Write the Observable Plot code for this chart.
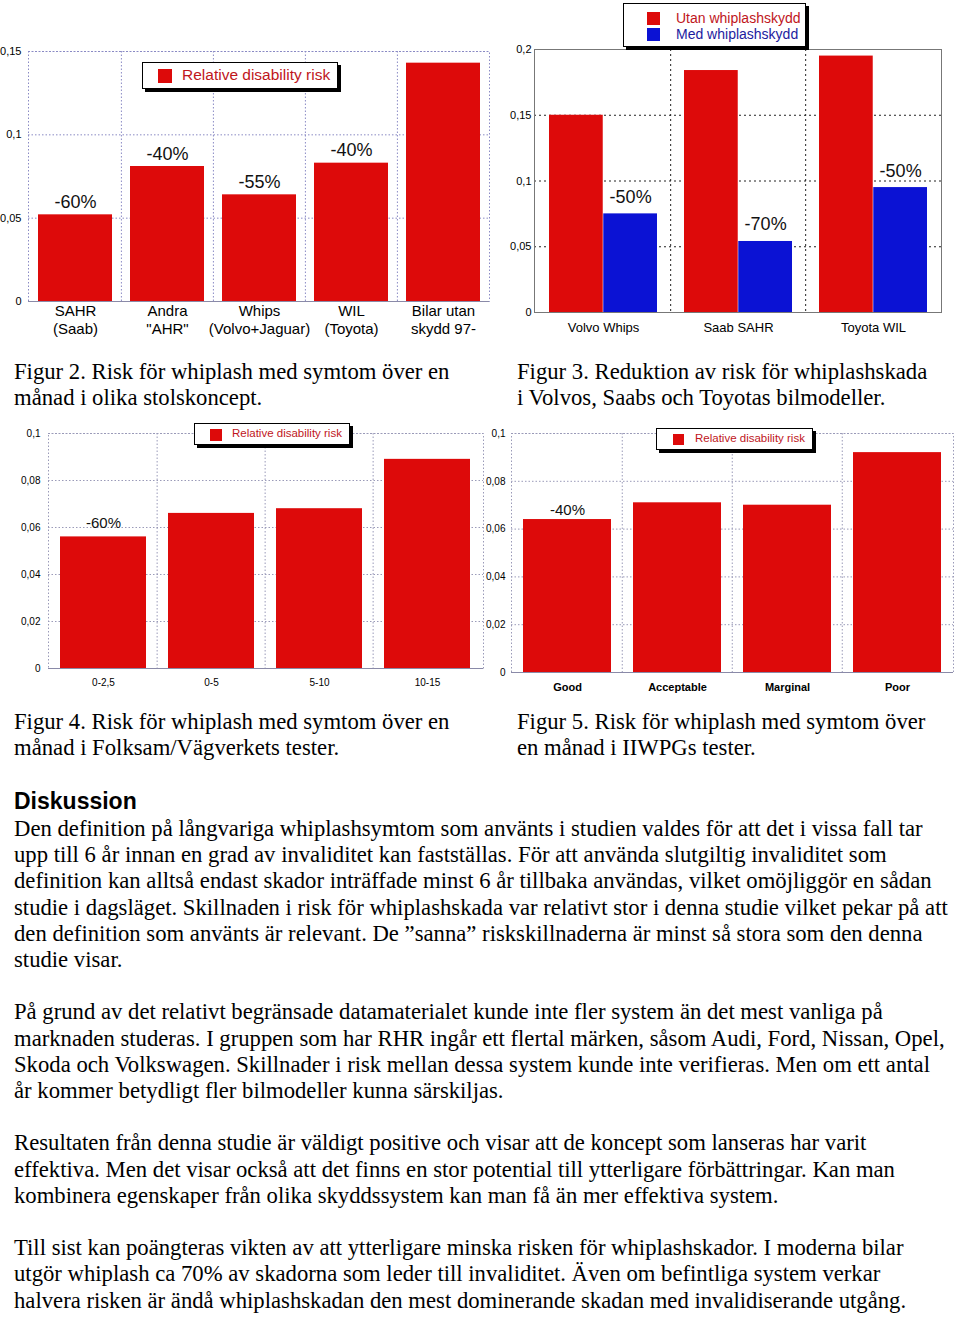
<!DOCTYPE html>
<html><head><meta charset="utf-8">
<script src="https://cdn.jsdelivr.net/npm/d3@7"></script>
<script src="https://cdn.jsdelivr.net/npm/@observablehq/plot@0.6"></script>
<style>
html,body{margin:0;padding:0;background:#fff;}
#page{position:relative;width:960px;height:1319px;overflow:hidden;font-family:"Liberation Serif","Times New Roman",serif;color:#000;}
.chart{position:absolute;}
.chart svg{display:block;overflow:visible;}
.legend{position:absolute;box-sizing:border-box;background:#fff;border:1px solid #000;box-shadow:3px 3px 0 #000;font-family:"Liberation Sans",Arial,sans-serif;z-index:5;}
.legend .sw{position:absolute;}
.legend .lt{position:absolute;white-space:nowrap;}
.txt{position:absolute;font-size:22.7px;line-height:26.2px;white-space:nowrap;}
.head{position:absolute;left:14px;top:788px;font-family:"Liberation Sans",Arial,sans-serif;font-weight:bold;font-size:23px;line-height:26px;}
</style>
</head><body><div id="page"></div>
<script>
// ---------- data ----------
const fig2Categories = ["SAHR\n(Saab)", "Andra\n\"AHR\"", "Whips\n(Volvo+Jaguar)", "WIL\n(Toyota)", "Bilar utan\nskydd 97-"];
const fig2Values = [0.052, 0.081, 0.064, 0.083, 0.143];
const fig2Labels = ["-60%", "-40%", "-55%", "-40%", ""];
const fig2Ticks = [0, 0.05, 0.1, 0.15];
const fig2Legend = ["Relative disability risk"];

const fig3Categories = ["Volvo Whips", "Saab SAHR", "Toyota WIL"];
const fig3Utan = [0.150, 0.184, 0.195];
const fig3Med = [0.075, 0.054, 0.095];
const fig3Labels = ["-50%", "-70%", "-50%"];
const fig3Ticks = [0, 0.05, 0.1, 0.15, 0.2];
const fig3Legend = ["Utan whiplashskydd", "Med whiplashskydd"];

const fig4Categories = ["0-2,5", "0-5", "5-10", "10-15"];
const fig4Values = [0.056, 0.066, 0.068, 0.089];
const fig4Labels = ["-60%", "", "", ""];
const fig4Ticks = [0, 0.02, 0.04, 0.06, 0.08, 0.1];
const fig4Legend = ["Relative disability risk"];

const fig5Categories = ["Good", "Acceptable", "Marginal", "Poor"];
const fig5Values = [0.064, 0.071, 0.070, 0.092];
const fig5Labels = ["-40%", "", "", ""];
const fig5Ticks = [0, 0.02, 0.04, 0.06, 0.08, 0.1];
const fig5Legend = ["Relative disability risk"];

const captions = [
  "Figur 2. Risk för whiplash med symtom över en\nmånad i olika stolskoncept.",
  "Figur 3. Reduktion av risk för whiplashskada\ni Volvos, Saabs och Toyotas bilmodeller.",
  "Figur 4. Risk för whiplash med symtom över en\nmånad i Folksam/Vägverkets tester.",
  "Figur 5. Risk för whiplash med symtom över\nen månad i IIWPGs tester."
];
const heading = "Diskussion";
const paragraphs = [
  ["Den definition på långvariga whiplashsymtom som använts i studien valdes för att det i vissa fall tar",
   "upp till 6 år innan en grad av invaliditet kan fastställas. För att använda slutgiltig invaliditet som",
   "definition kan alltså endast skador inträffade minst 6 år tillbaka användas, vilket omöjliggör en sådan",
   "studie i dagsläget. Skillnaden i risk för whiplashskada var relativt stor i denna studie vilket pekar på att",
   "den definition som använts är relevant. De ”sanna” riskskillnaderna är minst så stora som den denna",
   "studie visar."],
  ["På grund av det relativt begränsade datamaterialet kunde inte fler system än det mest vanliga på",
   "marknaden studeras. I gruppen som har RHR ingår ett flertal märken, såsom Audi, Ford, Nissan, Opel,",
   "Skoda och Volkswagen. Skillnader i risk mellan dessa system kunde inte verifieras. Men om ett antal",
   "år kommer betydligt fler bilmodeller kunna särskiljas."],
  ["Resultaten från denna studie är väldigt positive och visar att de koncept som lanseras har varit",
   "effektiva. Men det visar också att det finns en stor potential till ytterligare förbättringar. Kan man",
   "kombinera egenskaper från olika skyddssystem kan man få än mer effektiva system."],
  ["Till sist kan poängteras vikten av att ytterligare minska risken för whiplashskador. I moderna bilar",
   "utgör whiplash ca 70% av skadorna som leder till invaliditet. Även om befintliga system verkar",
   "halvera risken är ändå whiplashskadan den mest dominerande skadan med invalidiserande utgång."]
];

// ---------- styles ----------
const RED = "#dd0a0a";
const BLUE = "#0b12d4";
const LEG_RED = "#c0161c";
const LEG_BLUE = "#1c1ca0";
const fmt = d => d === 0 ? "0" : String(d).replace(".", ",");
const page = document.getElementById("page");

function place(node, left, top) {
  const div = document.createElement("div");
  div.className = "chart";
  div.style.left = left + "px";
  div.style.top = top + "px";
  div.appendChild(node);
  page.appendChild(div);
}

function singleChart(o) {
  const data = o.cats.map((c, i) => ({cat: c, v: o.vals[i], label: o.labels[i]}));
  const step = (o.width - o.ml - o.mr) / o.cats.length;
  return Plot.plot({
    width: o.width, height: o.height,
    marginLeft: o.ml, marginRight: o.mr, marginTop: o.mt, marginBottom: o.mb,
    style: {fontFamily: "'Liberation Sans', Arial, sans-serif", background: "transparent", color: "#000"},
    x: {domain: o.cats, paddingInner: 0.2, paddingOuter: 0.1},
    y: {domain: [0, o.ticks[o.ticks.length - 1]]},
    marks: [
      Plot.ruleY(o.ticks.slice(1), {stroke: o.grid, strokeDasharray: "1.5,2", strokeWidth: 1}),
      Plot.ruleX(o.cats.slice(1), {dx: -step / 2, stroke: o.grid, strokeDasharray: "1.5,2", strokeWidth: 1}),
      Plot.frame({stroke: o.grid, strokeDasharray: "1.5,2"}),
      Plot.barY(data, {x: "cat", y: "v", fill: RED}),
      Plot.ruleY([0], {stroke: "#8a8aa8"}),
      Plot.text(data, {x: "cat", y: "v", text: "label", lineAnchor: "bottom", dy: o.labelDy, fontSize: o.labelFont, fill: "#111"}),
      Plot.axisY(o.ticks, {tickFormat: fmt, tickSize: 0, tickPadding: o.tickPad, fontSize: o.tickFont, label: null}),
      Plot.axisX({tickSize: 0, tickPadding: o.catPad, fontSize: o.catFont, fontWeight: o.catWeight || "normal", lineHeight: o.lineHeight || 1.2, label: null})
    ]
  });
}

function legend(left, top, w, h, items, sw, swLeft, textLeft, fontSize, rowTops, textTops) {
  const box = document.createElement("div");
  box.className = "legend";
  Object.assign(box.style, {left: left + "px", top: top + "px", width: w + "px", height: h + "px"});
  items.forEach((it, i) => {
    const s = document.createElement("div");
    s.className = "sw";
    Object.assign(s.style, {left: swLeft + "px", top: rowTops[i] + "px", width: sw + "px", height: sw + "px", background: it.fill});
    box.appendChild(s);
    const t = document.createElement("div");
    t.className = "lt";
    t.textContent = it.label;
    Object.assign(t.style, {left: textLeft + "px", top: textTops[i] + "px", fontSize: fontSize + "px", lineHeight: (fontSize + 2) + "px", color: it.color});
    box.appendChild(t);
  });
  page.appendChild(box);
}

// ---------- Figur 2 ----------
place(singleChart({
  cats: fig2Categories, vals: fig2Values, labels: fig2Labels, ticks: fig2Ticks,
  width: 492, height: 345, ml: 28, mr: 3, mt: 51, mb: 44,
  grid: "#8a8ac4", tickFont: 11, tickPad: 7, catFont: 15, catPad: 2, lineHeight: 1.2,
  labelFont: 18, labelDy: -7
}), 0, 0);
legend(142, 62, 196, 27, [{label: fig2Legend[0], fill: RED, color: LEG_RED}], 14, 15, 39, 15.5, [6], [3]);

// ---------- Figur 3 ----------
{
  const width = 470, height = 340, ml = 44, mr = 19, mt = 49, mb = 28;
  const step = (width - ml - mr) / fig3Categories.length;
  const bw = step * 0.8;
  const data = fig3Categories.map((c, i) => ({cat: c, utan: fig3Utan[i], med: fig3Med[i], label: fig3Labels[i]}));
  const chart = Plot.plot({
    width, height, marginLeft: ml, marginRight: mr, marginTop: mt, marginBottom: mb,
    style: {fontFamily: "'Liberation Sans', Arial, sans-serif", background: "transparent", color: "#000"},
    x: {domain: fig3Categories, paddingInner: 0.2, paddingOuter: 0.1},
    y: {domain: [0, fig3Ticks[fig3Ticks.length - 1]]},
    marks: [
      Plot.ruleY(fig3Ticks.slice(1, -1), {stroke: "#222", strokeDasharray: "2,3"}),
      Plot.ruleX(fig3Categories.slice(1), {dx: -step / 2, stroke: "#222", strokeDasharray: "2,3"}),
      Plot.barY(data, {x: "cat", y: "utan", fill: RED, insetRight: bw / 2}),
      Plot.barY(data, {x: "cat", y: "med", fill: BLUE, insetLeft: bw / 2}),
      Plot.frame({stroke: "#777"}),
      Plot.text(data, {x: "cat", y: "med", text: "label", dx: bw / 4, dy: -11, lineAnchor: "bottom", fontSize: 18, fill: "#111"}),
      Plot.axisY(fig3Ticks, {tickFormat: fmt, tickSize: 0, tickPadding: 3, fontSize: 11, label: null}),
      Plot.axisX({tickSize: 0, tickPadding: 10, fontSize: 13, label: null})
    ]
  });
  place(chart, 490, 0);
  legend(623, 3, 183, 44,
    [{label: fig3Legend[0], fill: RED, color: LEG_RED}, {label: fig3Legend[1], fill: BLUE, color: LEG_BLUE}],
    13, 23, 52, 14, [8, 24], [6, 22]);
}

// ---------- Figur 4 ----------
place(singleChart({
  cats: fig4Categories, vals: fig4Values, labels: fig4Labels, ticks: fig4Ticks,
  width: 485, height: 280, ml: 48, mr: 2, mt: 13, mb: 32,
  grid: "#9a9ab8", tickFont: 10, tickPad: 8, catFont: 10, catPad: 9,
  labelFont: 15, labelDy: -9
}), 0, 420);
legend(194, 423, 156, 22, [{label: fig4Legend[0], fill: RED, color: LEG_RED}], 12, 15, 37, 11.5, [5], [3]);

// ---------- Figur 5 ----------
place(singleChart({
  cats: fig5Categories, vals: fig5Values, labels: fig5Labels, ticks: fig5Ticks,
  width: 477, height: 280, ml: 28, mr: 7, mt: 13, mb: 28,
  grid: "#9a9ab8", tickFont: 10, tickPad: 6, catFont: 11, catWeight: "bold", catPad: 9,
  labelFont: 15, labelDy: -5
}), 483, 420);
legend(656, 428, 157, 22, [{label: fig5Legend[0], fill: RED, color: LEG_RED}], 11, 16, 38, 11.5, [5], [3]);

// ---------- text ----------
function textBlock(html, left, top) {
  const d = document.createElement("div");
  d.className = "txt";
  d.style.left = left + "px";
  d.style.top = top + "px";
  d.innerHTML = html;
  page.appendChild(d);
}
const esc = s => s.replace(/&/g, "&amp;").replace(/</g, "&lt;");
textBlock(esc(captions[0]).replace("\n", "<br>"), 14, 359);
textBlock(esc(captions[1]).replace("\n", "<br>"), 517, 359);
textBlock(esc(captions[2]).replace("\n", "<br>"), 14, 709);
textBlock(esc(captions[3]).replace("\n", "<br>"), 517, 709);
const h = document.createElement("div");
h.className = "head";
h.textContent = heading;
page.appendChild(h);
textBlock(paragraphs.map(p => p.map(esc).join("<br>")).join("<br><br>"), 14, 816);
</script>
</body></html>
